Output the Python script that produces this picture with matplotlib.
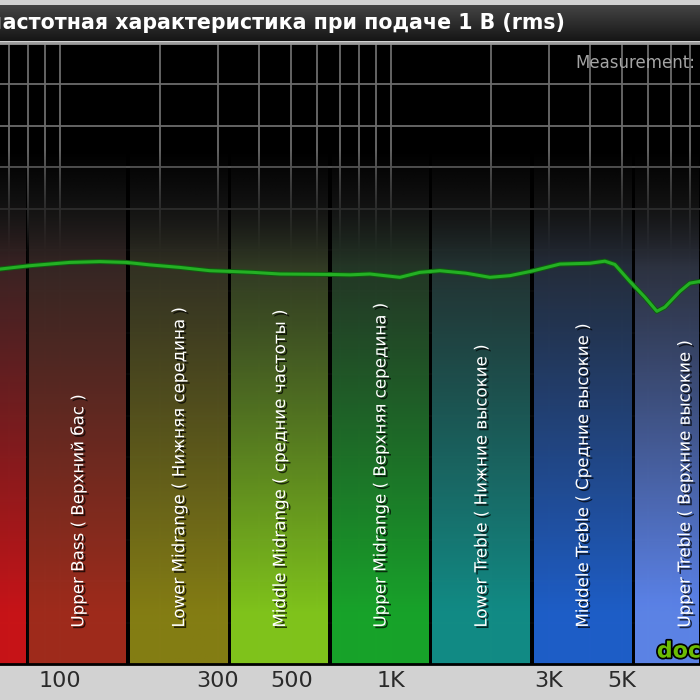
import numpy as np
import matplotlib.pyplot as plt
import matplotlib.patheffects as pe
from matplotlib.colors import to_rgb

# frequency response (Hz, dB)
freq = [66, 81, 93, 107, 132, 159, 187, 230, 284, 333, 383, 462, 654, 752,
        864, 959, 1065, 1223, 1406, 1685, 1991, 2288, 2667, 3240, 3993, 4432,
        4750, 5274, 5854, 6362, 6726, 7466, 8005, 8581]
level = [-2.3, -1.9, -1.7, -1.5, -1.4, -1.5, -1.8, -2.1, -2.5, -2.6, -2.7,
         -2.9, -2.95, -3.0, -2.9, -3.1, -3.3, -2.7, -2.5, -2.8, -3.3, -3.1,
         -2.55, -1.7, -1.6, -1.35, -1.75, -3.8, -5.7, -7.4, -6.9, -5.0, -4.0, -3.8]

band_edges = [40, 80, 161, 326, 655, 1320, 2670, 5420, 11000]
band_names = ["Bass ( Бас )",
              "Upper Bass ( Верхний бас )",
              "Lower Midrange ( Нижняя середина )",
              "Middle Midrange ( средние частоты )",
              "Upper Midrange ( Верхняя середина )",
              "Lower Treble ( Нижние высокие )",
              "Middele Treble ( Средние высокие )",
              "Upper Treble ( Верхние высокие )"]
band_colors = ['#c81418', '#a02c1c', '#857e14', '#80c41c',
               '#18a42a', '#128c86', '#1e5ec8', '#5c84ec']

tick_freqs = [100, 300, 500, 1000, 3000, 5000]
tick_labels = ['100', '300', '500', '1K', '3K', '5K']
grid_freqs = [60, 70, 80, 90, 100, 200, 300, 400, 500, 600, 700, 800, 900,
              1000, 2000, 3000, 4000, 5000, 6000, 7000, 8000, 9000]
grid_db = list(range(-45, 25, 5))

title = "Амплитудно-частотная характеристика при подаче 1 В (rms)"

xmin, xmax = 65.9, 8590
ytop, ybot = 25, -50
fig = plt.figure(figsize=(7, 7), dpi=100, facecolor='#d2d2d2')
ax = fig.add_axes([0, 36 / 700, 1, 621 / 700])
ax.set_facecolor('black')
ax.set_xscale('log')

for f in grid_freqs:
    ax.axvline(f, color='#6c6c6c', lw=1.3, zorder=0.5)
for d in grid_db:
    ax.axhline(d, color='#6c6c6c', lw=1.3, zorder=0.5)

# vertical gradient profiles
v = np.linspace(ytop, ybot, 300)
a_sep = np.clip((12 - v) / 12, 0, 1) * 0.95
sep = np.zeros((len(v), 1, 4))
sep[:, 0, 3] = a_sep
ax.imshow(sep, extent=(50, 12000, ybot, ytop), aspect='auto', zorder=1,
          interpolation='bilinear')

dark = np.array(to_rgb('#2a2a2a'))
alpha = np.clip((12 - v) / 14, 0, 1) * 0.9
t = np.clip((6 - v) / 50, 0, 1) ** 1.1
gap = 1.0105
for i in range(len(band_names)):
    c = np.array(to_rgb(band_colors[i])) / 0.9
    img = np.zeros((len(v), 1, 4))
    img[:, 0, :3] = np.clip(dark[None, :] * (1 - t[:, None]) + c[None, :] * t[:, None], 0, 1)
    img[:, 0, 3] = alpha
    f0, f1 = band_edges[i] * gap, band_edges[i + 1] / gap
    ax.imshow(img, extent=(f0, f1, ybot, ytop), aspect='auto', zorder=2,
              interpolation='bilinear')
    fc = np.sqrt(band_edges[i] * band_edges[i + 1])
    if xmin < fc < xmax:
        ax.text(fc, -45.6, band_names[i],
                rotation=90, ha='center', va='bottom', color='white', fontsize=12,
                zorder=6, clip_on=True,
                path_effects=[pe.withSimplePatchShadow(offset=(1.5, -1.5), shadow_rgbFace='black', alpha=0.7)])

ax.plot(freq, level, color='#24b024', lw=2.2, zorder=5,
        path_effects=[pe.Stroke(linewidth=3.6, foreground='#0e5e0e'), pe.Normal()])

ax.text(6360, -49.7, "doctorhead", color='#6cbc04', fontsize=16, fontweight='bold',
        ha='left', va='bottom', zorder=7, clip_on=True,
        path_effects=[pe.withStroke(linewidth=2.5, foreground='black')])

ax.set_xlim(xmin, xmax)
ax.set_ylim(ybot, ytop)
ax.set_xticks(tick_freqs)
ax.set_xticklabels(tick_labels)
ax.xaxis.set_minor_locator(plt.NullLocator())
ax.tick_params(axis='x', length=0, pad=5, labelsize=16, labelcolor='#2a2a2a')
ax.set_yticks([])
for s in ['left', 'right']:
    ax.spines[s].set_visible(False)
ax.spines['top'].set_color('#9a9a9a')
ax.spines['top'].set_linewidth(2)
ax.spines['bottom'].set_color('black')
ax.spines['bottom'].set_linewidth(2)

ax.text(575 / 700, 1 - 20 / 621, "Measurement:", transform=ax.transAxes,
        ha='left', va='center', color='#a4a4a4', fontsize=12, zorder=7)

# title bar
tax = fig.add_axes([0, 659 / 700, 1, 36 / 700])
bar = np.linspace(0, 1, 40)
bar_col = np.array(to_rgb('#444444'))[None, :] * (1 - bar[:, None]) + np.array(to_rgb('#161616'))[None, :] * bar[:, None]
tax.imshow(bar_col[:, None, :], aspect='auto', extent=(0, 1, 0, 1))
tax.set_axis_off()
fig.text(565 / 700, 1 - 23 / 700, title, ha='right', va='center', color='white',
         fontsize=14.8, fontweight='bold')

fig.savefig('out.png', dpi=100)
